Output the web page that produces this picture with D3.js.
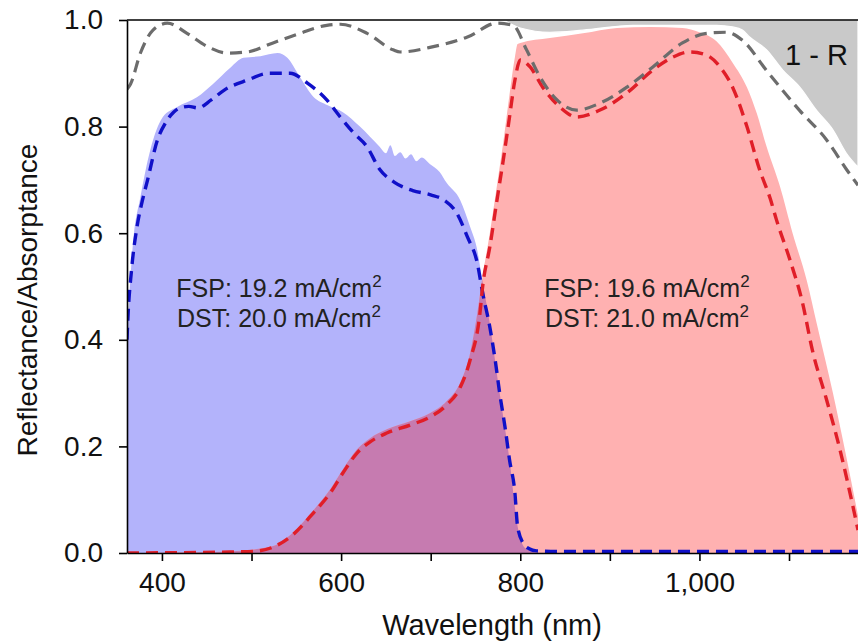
<!DOCTYPE html>
<html>
<head>
<meta charset="utf-8">
<script src="https://cdn.jsdelivr.net/npm/d3@7"></script>
<style>
  html, body { margin: 0; padding: 0; background: #fff; }
  svg { display: block; font-family: "Liberation Sans", Arial, Helvetica, sans-serif; }
</style>
</head>
<body>
<div id="chart"></div>
<script>
// -------------------------------
// Reflectance / absorptance spectra
// -------------------------------

// blue cell, FSP (filled) and DST (dashed)
const blueFspNm  = [361, 368, 376, 387, 401, 417, 439, 457, 476, 491, 510, 529, 540, 554, 569, 585, 602, 621, 643, 650, 655, 660, 666, 672, 678, 684, 690, 699, 710, 718, 733, 744, 752, 757, 766, 777, 788, 797, 805, 822, 1177];
const blueFspVal = [0.41, 0.587, 0.668, 0.756, 0.818, 0.837, 0.855, 0.88, 0.91, 0.929, 0.932, 0.938, 0.929, 0.893, 0.856, 0.84, 0.827, 0.80, 0.762, 0.75, 0.765, 0.745, 0.752, 0.74, 0.748, 0.735, 0.742, 0.73, 0.715, 0.694, 0.662, 0.612, 0.568, 0.518, 0.43, 0.30, 0.175, 0.05, 0.01, 0, 0];

const blueDstNm  = [361, 362, 366, 372, 378, 384, 395, 404, 413, 420, 430, 440, 455, 470, 495, 520, 543, 562, 584, 599, 614, 629, 643, 660, 680, 700, 715, 729, 741, 752, 758, 766, 772, 777, 783, 788, 794, 797, 803, 810, 818, 840, 1177];
const blueDstVal = [0.40, 0.44, 0.53, 0.61, 0.66, 0.70, 0.775, 0.807, 0.827, 0.835, 0.838, 0.835, 0.85, 0.869, 0.887, 0.90, 0.90, 0.882, 0.85, 0.818, 0.788, 0.762, 0.72, 0.695, 0.68, 0.672, 0.662, 0.638, 0.593, 0.544, 0.488, 0.424, 0.362, 0.30, 0.236, 0.175, 0.113, 0.05, 0.019, 0.008, 0.004, 0.003, 0.003];

// red cell, FSP (filled) and DST (dashed)
const redFspNm  = [361, 476, 524, 546, 569, 588, 602, 618, 632, 651, 677, 699, 718, 733, 744, 752, 758, 766, 774, 781, 788, 794, 797, 800, 833, 870, 908, 945, 981, 1000, 1019, 1037, 1053, 1064, 1075, 1090, 1104, 1120, 1131, 1149, 1164, 1177];
const redFspVal = [0, 0.003, 0.013, 0.038, 0.08, 0.12, 0.157, 0.195, 0.215, 0.232, 0.247, 0.262, 0.285, 0.32, 0.375, 0.45, 0.52, 0.60, 0.69, 0.77, 0.86, 0.93, 0.955, 0.957, 0.966, 0.975, 0.985, 0.987, 0.985, 0.977, 0.96, 0.92, 0.874, 0.825, 0.762, 0.687, 0.60, 0.51, 0.43, 0.30, 0.18, 0.07];

const redDstNm  = [361, 476, 502, 524, 546, 569, 588, 602, 618, 632, 651, 677, 699, 718, 733, 744, 755, 758, 766, 774, 781, 788, 794, 800, 811, 825, 844, 863, 889, 919, 948, 970, 989, 1008, 1023, 1037, 1053, 1067, 1079, 1086, 1101, 1115, 1126, 1142, 1157, 1168, 1177];
const redDstVal = [0, 0.002, 0.003, 0.011, 0.034, 0.075, 0.113, 0.15, 0.188, 0.208, 0.225, 0.24, 0.255, 0.278, 0.311, 0.362, 0.45, 0.50, 0.574, 0.662, 0.737, 0.818, 0.887, 0.925, 0.912, 0.874, 0.837, 0.818, 0.831, 0.863, 0.906, 0.93, 0.94, 0.934, 0.912, 0.874, 0.80, 0.72, 0.665, 0.625, 0.55, 0.47, 0.381, 0.287, 0.193, 0.113, 0.043];

// 1 - R, FSP (grey fill above the curve) and DST (dashed)
const oneMinusRFspNm  = [361, 780, 788, 800, 833, 870, 926, 981, 1019, 1037, 1048, 1056, 1075, 1093, 1112, 1131, 1149, 1164, 1177];
const oneMinusRFspVal = [1, 1, 0.994, 0.985, 0.977, 0.981, 0.99, 0.99, 0.99, 0.987, 0.981, 0.968, 0.944, 0.906, 0.874, 0.83, 0.794, 0.75, 0.724];

const oneMinusRDstNm  = [361, 365, 376, 390, 406, 428, 451, 473, 495, 524, 554, 584, 599, 629, 658, 666, 703, 741, 774, 792, 807, 822, 841, 863, 889, 919, 948, 981, 1008, 1030, 1048, 1075, 1112, 1142, 1164, 1177];
const oneMinusRDstVal = [0.87, 0.88, 0.938, 0.981, 0.994, 0.975, 0.95, 0.938, 0.94, 0.957, 0.975, 0.99, 0.992, 0.975, 0.944, 0.94, 0.95, 0.968, 0.994, 0.99, 0.944, 0.893, 0.85, 0.831, 0.844, 0.874, 0.912, 0.957, 0.975, 0.977, 0.962, 0.905, 0.83, 0.775, 0.72, 0.69];

// axis ticks and text
const yTicks = [0, 0.2, 0.4, 0.6, 0.8, 1.0];
const xTicks = [400, 500, 600, 700, 800, 900, 1000, 1100];
const xTickLabelled = [400, 600, 800, 1000];
const blueNotes = ["FSP: 19.2 mA/cm", "DST: 20.0 mA/cm"];
const redNotes  = ["FSP: 19.6 mA/cm", "DST: 21.0 mA/cm"];

const zip = (nm, v) => nm.map((w, i) => ({ nm: w, v: v[i] }));

const width = 858, height = 643;
const margin = { top: 20, right: 0, bottom: 90, left: 127 };

const svg = d3.select("#chart")
  .append("svg")
  .attr("width", width)
  .attr("height", height);

const x = d3.scaleLinear()
  .domain([361, 1177])
  .range([margin.left, width - margin.right]);

const y = d3.scaleLinear()
  .domain([0, 1])
  .range([height - margin.bottom, margin.top]);

const defs = svg.append("defs");
defs.append("clipPath").attr("id", "plotClip")
  .append("rect")
  .attr("x", margin.left).attr("y", margin.top)
  .attr("width", width - margin.left - margin.right)
  .attr("height", y(0) - margin.top);

const area = d3.area()
  .curve(d3.curveMonotoneX)
  .x(d => x(d.nm)).y0(y(0)).y1(d => y(d.v));

const line = d3.line()
  .curve(d3.curveMonotoneX)
  .x(d => x(d.nm)).y(d => y(d.v));

const blueFsp = zip(blueFspNm, blueFspVal);
const redFsp = zip(redFspNm, redFspVal);

defs.append("clipPath").attr("id", "blueClip")
  .append("path")
  .attr("d", area(blueFsp));

const plot = svg.append("g").attr("clip-path", "url(#plotClip)");

// filled areas
plot.append("path").attr("d", area(blueFsp)).attr("fill", "#b3b3fb");
plot.append("path").attr("d", area(redFsp)).attr("fill", "#ffb1b1");
plot.append("path").attr("d", area(redFsp)).attr("fill", "#c67bb0")
  .attr("clip-path", "url(#blueClip)");

// 1 - R shading sits between the curve and 1.0
plot.append("path")
  .attr("d", d3.area().curve(d3.curveMonotoneX)
    .x(d => x(d.nm)).y0(y(1)).y1(d => y(d.v))(zip(oneMinusRFspNm, oneMinusRFspVal)))
  .attr("fill", "#c9c9c9")
  .attr("stroke", "#fff")
  .attr("stroke-width", 1.2);

// dashed curves
plot.append("path").attr("d", line(zip(blueDstNm, blueDstVal)))
  .attr("fill", "none").attr("stroke", "#1010c8").attr("stroke-width", 3.4)
  .attr("stroke-dasharray", "12,7");
plot.append("path").attr("d", line(zip(redDstNm, redDstVal)))
  .attr("fill", "none").attr("stroke", "#e01e28").attr("stroke-width", 3.4)
  .attr("stroke-dasharray", "12,7");
plot.append("path").attr("d", line(zip(oneMinusRDstNm, oneMinusRDstVal)))
  .attr("fill", "none").attr("stroke", "#6c6c6c").attr("stroke-width", 3.2)
  .attr("stroke-dasharray", "12,7");

// axes
const yAxis = svg.append("g")
  .attr("transform", `translate(${margin.left},0)`)
  .call(d3.axisLeft(y).tickValues(yTicks).tickFormat(d3.format(".1f"))
    .tickSize(8).tickSizeOuter(0).tickPadding(16));

const xAxis = svg.append("g")
  .attr("transform", `translate(0,${y(0)})`)
  .call(d3.axisBottom(x).tickValues(xTicks)
    .tickFormat(d => xTickLabelled.includes(d) ? d3.format(",")(d) : "")
    .tickSize(8).tickSizeOuter(0).tickPadding(11));

[yAxis, xAxis].forEach(g => {
  g.selectAll("path.domain").attr("stroke", "#000").attr("stroke-width", 1.6);
  g.selectAll(".tick line").attr("stroke", "#000").attr("stroke-width", 1.6);
  g.selectAll(".tick text")
    .attr("fill", "#111")
    .style("font-size", "28px")
    .style("font-family", "'Liberation Sans', Arial, sans-serif");
});

// top frame line
svg.append("line")
  .attr("x1", margin.left).attr("x2", width)
  .attr("y1", y(1)).attr("y2", y(1))
  .attr("stroke", "#000").attr("stroke-width", 1.6);

// axis titles
svg.append("text")
  .attr("x", 492).attr("y", 635)
  .attr("text-anchor", "middle")
  .style("font-size", "29px").attr("fill", "#111")
  .text("Wavelength (nm)");

svg.append("text")
  .attr("transform", "translate(37,300) rotate(-90)")
  .attr("text-anchor", "middle")
  .style("font-size", "28px").attr("fill", "#111")
  .text("Reflectance/Absorptance");

// annotations
function note(cx, lines) {
  lines.forEach((t, i) => {
    const txt = svg.append("text")
      .attr("x", cx).attr("y", 297 + i * 30)
      .attr("text-anchor", "middle")
      .style("font-size", "25px").attr("fill", "#222");
    txt.append("tspan").text(t);
    txt.append("tspan").attr("dy", -10).style("font-size", "17px").text("2");
  });
}
note(279, blueNotes);
note(647, redNotes);

svg.append("text")
  .attr("x", 785).attr("y", 65)
  .style("font-size", "29px").attr("fill", "#111")
  .text("1 - R");
</script>
</body>
</html>
